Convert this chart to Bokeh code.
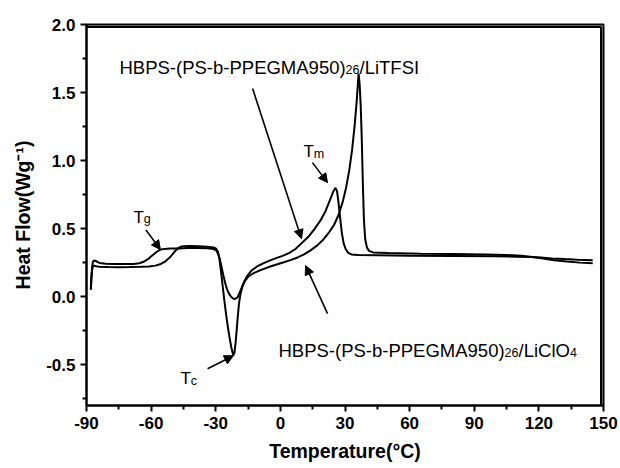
from bokeh.plotting import figure
from bokeh.models import Range1d, FixedTicker, Arrow, NormalHead
from bokeh.core.properties import value
from bokeh.embed import file_html
from bokeh.resources import INLINE

# ---- data ----
temp_litfsi = [-88.0, -87.7, -87.4, -87.0, -86.4, -85.5, -84.0, -81.0, -77.0, -72.0, -68.0, -65.5, -63.5,
               -61.5, -59.5, -57.5, -55.8, -54.0, -51.0, -47.0, -43.0, -38.0, -34.0, -31.0, -29.8, -29.0,
               -28.2, -27.4, -26.6, -25.7, -24.8, -23.8, -22.8, -21.8, -20.8, -19.9, -19.0, -18.0, -16.8,
               -15.3, -13.5, -11.0, -8.0, -5.0, -2.0, 1.0, 4.0, 7.0, 10.0, 13.0, 16.0, 19.0, 21.0, 23.0,
               24.5, 25.6, 26.3, 27.0, 27.8, 28.6, 29.4, 30.3, 31.5, 33.0, 36.0, 45.0, 60.0, 80.0, 100.0,
               110.0, 116.0, 121.0, 126.0, 132.0, 138.0, 145.0]
heat_litfsi = [0.06, 0.15, 0.22, 0.258, 0.266, 0.260, 0.248, 0.242, 0.240, 0.239, 0.240, 0.245, 0.256,
               0.275, 0.302, 0.328, 0.345, 0.351, 0.353, 0.354, 0.357, 0.357, 0.355, 0.350, 0.340, 0.318,
               0.28, 0.225, 0.165, 0.105, 0.055, 0.02, -0.003, -0.015, -0.016, -0.005, 0.025, 0.065, 0.11,
               0.155, 0.19, 0.22, 0.245, 0.265, 0.283, 0.30, 0.32, 0.35, 0.395, 0.44, 0.50, 0.57, 0.63, 0.71,
               0.77, 0.80, 0.775, 0.69, 0.57, 0.46, 0.39, 0.35, 0.322, 0.31, 0.306, 0.304, 0.301, 0.299, 0.296,
               0.294, 0.291, 0.287, 0.281, 0.276, 0.272, 0.268]

temp_liclo4 = [-88.0, -87.7, -87.4, -87.0, -86.4, -85.5, -84.0, -80.0, -75.0, -70.0, -65.0, -61.0, -58.0,
               -55.5, -53.5, -51.5, -50.0, -48.7, -47.5, -46.3, -45.0, -42.0, -38.0, -34.0, -31.0, -29.8,
               -29.0, -28.3, -27.6, -26.8, -26.0, -25.2, -24.4, -23.6, -22.8, -22.2, -21.8, -21.3, -20.8,
               -20.3, -19.8, -19.2, -18.5, -17.6, -16.5, -14.7, -12.5, -10.0, -7.0, -4.0, -1.0, 2.0, 5.0,
               8.0, 11.0, 14.0, 17.0, 20.0, 22.5, 25.0, 27.0, 29.0, 30.5, 32.0, 33.3, 34.5, 35.5, 36.3, 36.8,
               37.3, 37.8, 38.3, 38.8, 39.4, 40.2, 41.2, 43.0, 50.0, 65.0, 80.0, 95.0, 105.0, 112.0, 117.0,
               122.0, 127.0, 133.0, 139.0, 145.0]
heat_liclo4 = [0.05, 0.14, 0.195, 0.222, 0.228, 0.224, 0.220, 0.217, 0.216, 0.217, 0.219, 0.222, 0.228,
               0.240, 0.258, 0.285, 0.312, 0.338, 0.356, 0.366, 0.371, 0.372, 0.370, 0.367, 0.362, 0.352,
               0.33, 0.28, 0.19, 0.08, -0.03, -0.13, -0.22, -0.30, -0.37, -0.41, -0.432, -0.41, -0.34,
               -0.25, -0.15, -0.05, 0.02, 0.075, 0.115, 0.15, 0.172, 0.19, 0.208, 0.225, 0.24, 0.255, 0.27,
               0.288, 0.31, 0.34, 0.375, 0.42, 0.47, 0.53, 0.60, 0.70, 0.80, 0.93, 1.08, 1.26, 1.45, 1.64,
               1.56, 1.40, 1.15, 0.82, 0.56, 0.42, 0.36, 0.336, 0.325, 0.32, 0.316, 0.313, 0.31, 0.306, 0.300,
               0.292, 0.280, 0.268, 0.258, 0.250, 0.245]

x_ticks = [-90, -60, -30, 0, 30, 60, 90, 120, 150]
x_tick_labels = ["-90", "-60", "-30", "0", "30", "60", "90", "120", "150"]
x_minor = [-75, -45, -15, 15, 45, 75, 105, 135]
y_ticks = [-0.5, 0.0, 0.5, 1.0, 1.5, 2.0]
y_tick_labels = ["-0.5", "0.0", "0.5", "1.0", "1.5", "2.0"]
y_minor = [-0.75, -0.25, 0.25, 0.75, 1.25, 1.75]

X_MIN, X_MAX = -90, 150
Y_MIN, Y_MAX = -0.8, 2.0

FONT = "Liberation Sans"

p = figure(width=620, height=468, x_range=Range1d(X_MIN, X_MAX), y_range=Range1d(Y_MIN, Y_MAX),
           output_backend="svg", toolbar_location=None,
           min_border_left=86, min_border_right=17, min_border_top=24, min_border_bottom=63)
p.grid.visible = False
p.outline_line_color = "black"
p.outline_line_width = 2
p.background_fill_color = "white"
p.border_fill_color = "white"

p.xaxis.ticker = FixedTicker(ticks=x_ticks, minor_ticks=x_minor)
p.xaxis.major_label_overrides = {t: l for t, l in zip(x_ticks, x_tick_labels)}
p.yaxis.ticker = FixedTicker(ticks=y_ticks, minor_ticks=y_minor)
p.yaxis.major_label_overrides = {t: l for t, l in zip(y_ticks, y_tick_labels)}

for ax in (p.xaxis, p.yaxis):
    ax.axis_line_width = 2
    ax.axis_line_color = "black"
    ax.major_tick_line_width = 2
    ax.minor_tick_line_width = 2
    ax.major_tick_line_color = "black"
    ax.minor_tick_line_color = "black"
    ax.major_tick_out = 6
    ax.major_tick_in = 0
    ax.minor_tick_out = 4
    ax.minor_tick_in = 0
    ax.major_label_text_font = FONT
    ax.major_label_text_font_style = "bold"
    ax.major_label_text_font_size = "17px"
    ax.major_label_text_color = "black"
    ax.axis_label_text_font = FONT
    ax.axis_label_text_font_style = "bold"
    ax.axis_label_text_font_size = "19.5px"
    ax.axis_label_text_color = "black"

p.xaxis.axis_label = "Temperature(°C)"
p.xaxis.axis_label_standoff = 8
p.yaxis.axis_label = "Heat Flow(Wg⁻¹)"
p.yaxis.axis_label_standoff = 9

# frame box: top and right edges, drawn just inside the frame
top_y = Y_MAX - 0.018
right_x = X_MAX - 1.1
p.line([X_MIN, right_x, right_x], [top_y, top_y, Y_MIN], line_color="black", line_width=2.2)

p.line(temp_litfsi, heat_litfsi, line_width=2, line_color="black")
p.line(temp_liclo4, heat_liclo4, line_width=2, line_color="black")

# ---- annotations ----
W = {'H': 722, 'B': 667, 'P': 667, 'S': 667, '-': 333, '(': 333, ')': 333, 'b': 556, 'E': 667,
     'G': 778, 'M': 833, 'A': 667, '0': 556, '2': 556, '4': 556, '5': 556, '6': 556, '9': 556,
     '/': 278, 'L': 556, 'i': 222, 'T': 611, 'F': 611, 'I': 278, 'C': 722, 'l': 222, 'O': 778,
     'm': 833, 'g': 556, 'c': 500}


def rich_text(x, y, parts):
    off = 0.0
    for s, size, dy in parts:
        p.text(x=[x], y=[y], text=[s], x_offset=off, y_offset=dy,
               text_font=value(FONT), text_font_size=value(f"{size}px"),
               text_color="black", text_align="left", text_baseline="alphabetic")
        off += sum(W[c] for c in s) / 1000.0 * size


def arrow(x0, y0, x1, y1):
    p.add_layout(Arrow(end=NormalHead(size=9, fill_color="black", line_color="black"),
                       x_start=x0, y_start=y0, x_end=x1, y_end=y1,
                       line_color="black", line_width=1.6))


rich_text(-74.7, 1.684, [("HBPS-(PS-b-PPEGMA950)", 18.5, 0), ("26", 12.5, 2), ("/LiTFSI", 18.5, 0)])
rich_text(-0.9, -0.397, [("HBPS-(PS-b-PPEGMA950)", 18.5, 0), ("26", 12.5, 2), ("/LiClO", 18.5, 0), ("4", 12.5, 2)])
rich_text(-68.2, 0.585, [("T", 17, 0), ("g", 12.5, 2)])
rich_text(10.7, 1.066, [("T", 17, 0), ("m", 12.5, 2)])
rich_text(-46.4, -0.603, [("T", 17, 0), ("c", 12.5, 2)])

arrow(-12.9, 1.53, 9.8, 0.426)
arrow(21.9, -0.125, 11.7, 0.228)
arrow(-62.4, 0.49, -55.7, 0.346)
arrow(14.9, 0.985, 21.9, 0.838)
arrow(-33.8, -0.53, -21.8, -0.434)

open("out.html", "w").write(file_html(p, INLINE))
